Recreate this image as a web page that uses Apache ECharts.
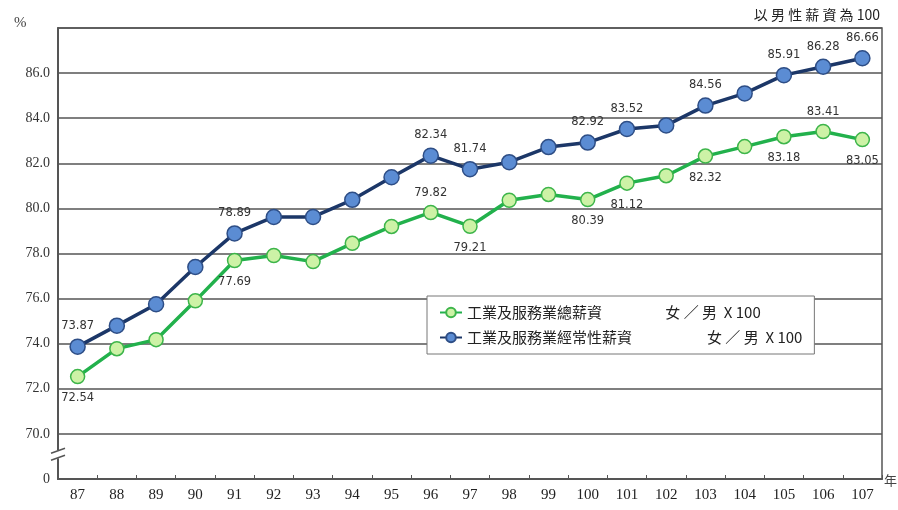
<!DOCTYPE html>
<html><head><meta charset="utf-8">
<script src="https://cdn.jsdelivr.net/npm/echarts@6/dist/echarts.min.js"></script>
<style>html,body{margin:0;padding:0;background:#fff}#c{width:898px;height:510px}</style>
</head><body><div id="c"></div>
<script>
const years = ['87','88','89','90','91','92','93','94','95','96','97','98','99','100','101','102','103','104','105','106','107'];
const totalWage = [72.54,73.78,74.18,75.9,77.69,77.91,77.64,78.45,79.2,79.82,79.21,80.36,80.62,80.39,81.12,81.45,82.32,82.74,83.18,83.41,83.05];
const regularWage = [73.87,74.8,75.75,77.4,78.89,79.62,79.62,80.38,81.38,82.34,81.74,82.05,82.72,82.92,83.52,83.68,84.56,85.1,85.91,86.28,86.66];
const regularLabelIdx = [0,4,9,10,13,14,16,18,19,20];
const totalLabelAbove = [9,19];
const totalLabelBelow = [0,4,10,13,14,16,18,20];
const yTicks = [68,70,72,74,76,78,80,82,84,86,88];
const totalName = '工業及服務業總薪資　　　　 女 ／ 男  X 100';
const regularName = '工業及服務業經常性薪資　　　　　女 ／ 男  X 100';

const labelFont = {fontFamily:'DejaVu Sans', fontSize:11.5, color:'#333'};
function items(vals, above, below){
  return vals.map((v,i)=>{
    if (above.includes(i)) return {value:v, label:{show:true, position:'top', distance:6}};
    if (below.includes(i)) return {value:v, label:{show:true, position:'bottom', distance:8}};
    return v;
  });
}
const chart = echarts.init(document.getElementById('c'));
chart.setOption({
  animation:false,
  grid:{left:58, right:16, top:28, bottom:31, show:true, borderColor:'#555', borderWidth:1.5},
  legend:{
    left:427, top:296, orient:'vertical', backgroundColor:'#fff', borderColor:'#777', borderWidth:1,
    padding:[9,12,9,12], itemGap:10, itemWidth:22, itemHeight:12,
    textStyle:{fontFamily:'Noto Sans CJK TC', fontSize:15, color:'#222'},
    data:[totalName, regularName]
  },
  xAxis:{
    type:'category', data:years, boundaryGap:true,
    axisLine:{lineStyle:{color:'#555', width:2}},
    axisTick:{show:true, inside:true, length:4, lineStyle:{color:'#555'}},
    axisLabel:{fontFamily:'Liberation Serif', fontSize:15, color:'#222', margin:9}
  },
  yAxis:{
    type:'value', min:68, max:88, interval:2,
    axisLine:{show:true, lineStyle:{color:'#555', width:2}},
    axisTick:{show:false},
    splitLine:{lineStyle:{color:'#555', width:1.5}},
    axisLabel:{fontFamily:'Liberation Serif', fontSize:14, color:'#333', margin:8,
      formatter:v=> v===yTicks[0] ? '0' : (v===yTicks[yTicks.length-1] ? '' : v.toFixed(1))}
  },
  series:[
    {name:totalName, type:'line', data:items(totalWage,totalLabelAbove,totalLabelBelow),
     symbol:'circle', symbolSize:14, z:3,
     lineStyle:{color:'#22B14C', width:3.5},
     itemStyle:{color:'#CDF2A6', borderColor:'#3DB54A', borderWidth:1.5},
     label:{show:false, formatter:p=>p.value.toFixed(2), ...labelFont}},
    {name:regularName, type:'line', data:items(regularWage,regularLabelIdx,[]),
     symbol:'circle', symbolSize:15, z:4,
     lineStyle:{color:'#1C3768', width:3.5},
     itemStyle:{color:'#5B8CD3', borderColor:'#2E4E86', borderWidth:1.5},
     label:{show:false, formatter:p=>p.value.toFixed(2), ...labelFont}}
  ]
});
const ax = chart.convertToPixel({gridIndex:0},[0,69.05]);
const axisX = 58;
chart.setOption({graphic:[
  {type:'text', left:14, top:16, style:{text:'%', font:'15px "Liberation Serif"', fill:'#444'}},
  {type:'text', right:18, top:8, style:{text:'以 男 性 薪 資 為 100', font:'14px "Noto Sans CJK TC"', fill:'#222'}},
  {type:'text', left:884, top:474, style:{text:'年', font:'13px "Noto Sans CJK TC"', fill:'#444'}},
  {type:'rect', shape:{x:axisX-3, y:ax[1]-5, width:6, height:8}, style:{fill:'#fff'}, z:100},
  {type:'line', shape:{x1:axisX-7, y1:ax[1]-2, x2:axisX+7, y2:ax[1]-7}, style:{stroke:'#555', lineWidth:1.5}, z:101},
  {type:'line', shape:{x1:axisX-7, y1:ax[1]+5, x2:axisX+7, y2:ax[1]}, style:{stroke:'#555', lineWidth:1.5}, z:101}
]});
</script></body></html>
